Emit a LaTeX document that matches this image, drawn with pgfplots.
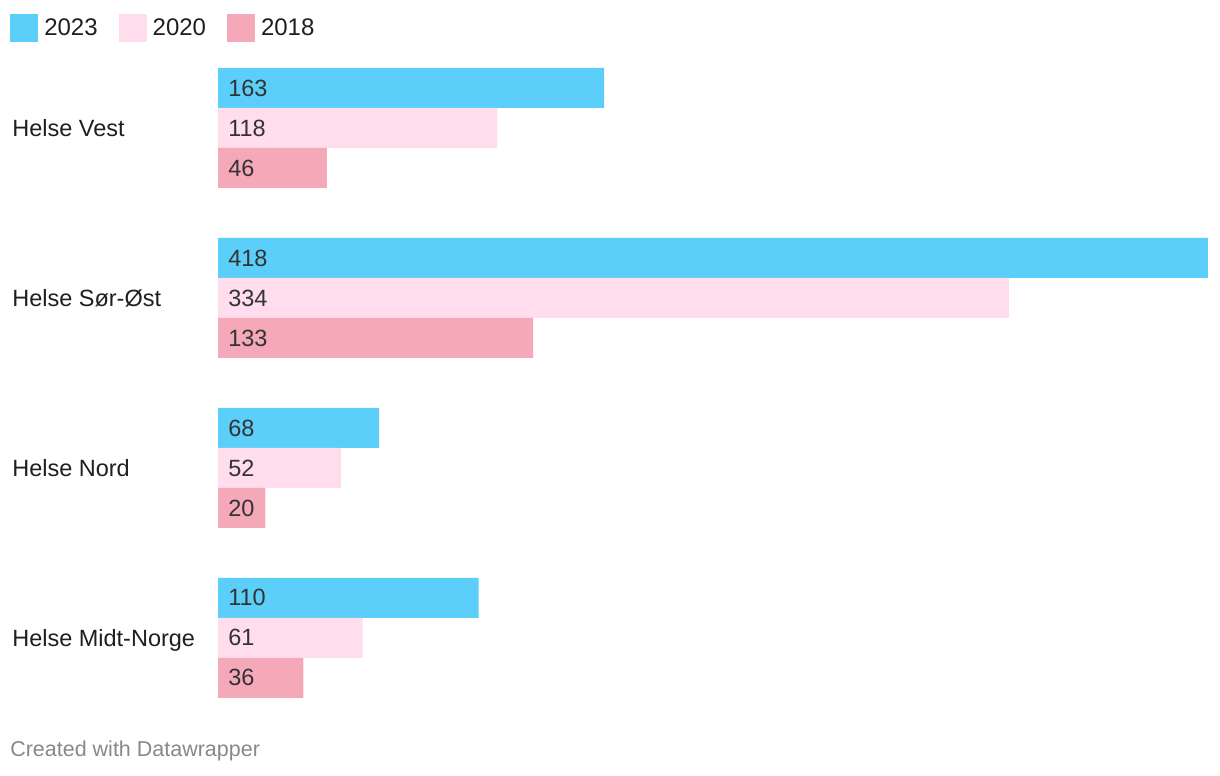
\documentclass[border=0pt]{standalone}
\usepackage{fontspec}
\setmainfont{Liberation Sans}
\usepackage{pgfplots}
\pgfplotsset{compat=1.18}
\definecolor{c23}{HTML}{5BCEFA}
\definecolor{c20}{HTML}{FFDDEC}
\definecolor{c18}{HTML}{F5A9B8}
\definecolor{lab}{HTML}{1F1F1F}
\definecolor{val}{HTML}{333333}
\definecolor{cred}{HTML}{888888}
\begin{document}
\begin{tikzpicture}
\begin{axis}[
  x=2.36842pt, y=170pt, y dir=reverse,
  xmin=-92.044, xmax=423.07, ymin=-0.75294, ymax=3.81176,
  axis line style={draw=none}, major tick length=0pt,
  xtick=\empty, ytick={0,1,2,3},
  yticklabels={Helse Vest, Helse Sør-Øst, Helse Nord, Helse Midt-Norge},
  yticklabel style={anchor=base west, inner sep=0pt, xshift=12pt, yshift=-8.7pt, font=\fontsize{23.5}{28}\selectfont, text=lab},
  xbar, bar width=40pt,
  clip=false,
  /pgf/number format/assume math mode=true,
  nodes near coords,
  visualization depends on={x \as \rawx},
  every node near coord/.append style={anchor=west, inner sep=0pt, xshift={10pt-\rawx*2.36842pt}, font=\fontsize{23.5}{28}\selectfont, text=val},
  legend image code/.code={\fill[#1] (0pt,-14pt) rectangle (28pt,14pt);},
  legend columns=3,
  legend style={at={(0,1)}, anchor=north west, xshift=10pt, yshift=-14pt, draw=none, fill=none, inner sep=0pt,
    font=\fontsize{24}{28}\selectfont, text=lab, nodes={inner sep=0pt},
    /tikz/every even column/.append style={column sep=21pt},
    /tikz/every odd column/.append style={column sep=6pt}},
]
\addplot[fill=c23, draw=none, bar shift=40pt] coordinates {(163,0) (418,1) (68,2) (110,3)};
\addplot[fill=c20, draw=none, bar shift=0pt] coordinates {(118,0) (334,1) (52,2) (61,3)};
\addplot[fill=c18, draw=none, bar shift=-40pt] coordinates {(46,0) (133,1) (20,2) (36,3)};
\legend{2023,2020,2018}
\node[anchor=base west, inner sep=0pt, font=\fontsize{21.5}{26}\selectfont, text=cred] at (axis description cs:0,0) [xshift=10pt, yshift=19pt] {Created with Datawrapper};
\end{axis}
\end{tikzpicture}
\end{document}
